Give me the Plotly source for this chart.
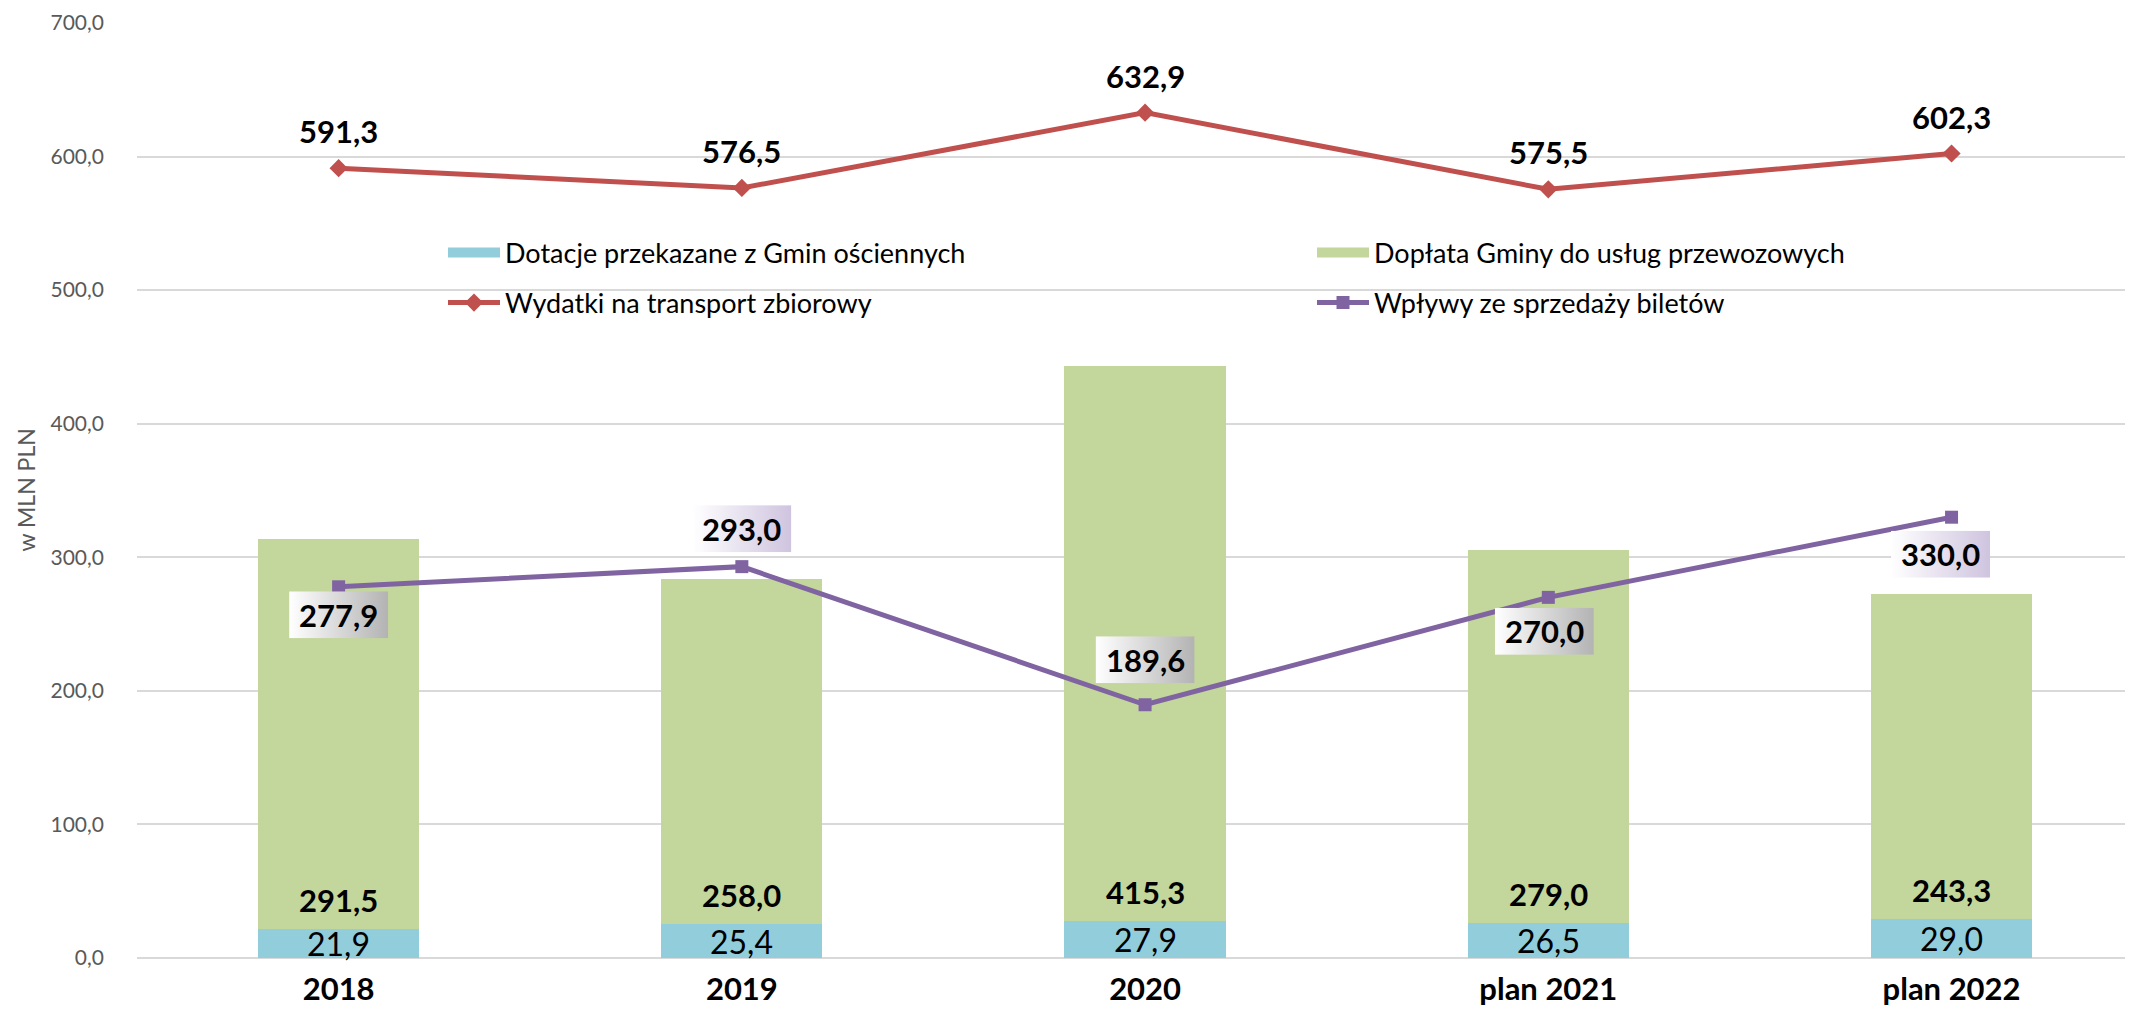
import base64
import plotly.graph_objects as go

# ---------------- data ----------------
categories = ["2018", "2019", "2020", "plan 2021", "plan 2022"]
dotacje = [21.9, 25.4, 27.9, 26.5, 29.0]          # Dotacje przekazane z Gmin ościennych
doplata = [291.5, 258.0, 415.3, 279.0, 243.3]     # Dopłata Gminy do usług przewozowych
wydatki = [591.3, 576.5, 632.9, 575.5, 602.3]     # Wydatki na transport zbiorowy
wplywy = [277.9, 293.0, 189.6, 270.0, 330.0]      # Wpływy ze sprzedaży biletów
y_ticks = [0, 100, 200, 300, 400, 500, 600, 700]

# ---------------- style / layout constants ----------------
PAGE_OFF = 8                      # default body margin of the html page
W, H = 2133 - PAGE_OFF, 1015 - PAGE_OFF
M_L, M_R, M_T = 137 - PAGE_OFF, 0, 23 - PAGE_OFF
M_B = H - (958 - PAGE_OFF)
Y_MAX = 700
X_RANGE = [-0.5, 4.45]
plot_w = W - M_L - M_R
plot_h = H - M_T - M_B
px_per_y = plot_h / Y_MAX
px_per_x = plot_w / (X_RANGE[1] - X_RANGE[0])

FONT = "Lato"
C_BLUE = "#92cddc"
C_GREEN = "#c3d69b"
C_RED = "#c0504d"
C_PURPLE = "#8064a2"
C_GRID = "#d9d9d9"
C_TICK = "#595959"

# label box offsets for the "Wpływy" labels (px, relative to marker)
wplywy_dy = [-28, 38, 45, -34, -37]
wplywy_dx = [0, 0, 0, -4, -11]
wplywy_box = ["gray", "purple", "gray", "gray", "purple"]
BOX_W, BOX_H = 99, 47
LBL = 31
LEG_ITEM_W = 52

x_idx = list(range(len(categories)))

names = ["Dotacje przekazane z Gmin ościennych", "Dopłata Gminy do usług przewozowych",
         "Wydatki na transport zbiorowy", "Wpływy ze sprzedaży biletów"]

fig = go.Figure()
fig.add_trace(go.Bar(x=x_idx, y=dotacje, name=names[0], showlegend=False,
                     marker=dict(color=C_BLUE, line=dict(width=0)), width=0.4))
fig.add_trace(go.Bar(x=x_idx, y=doplata, name=names[1], showlegend=False,
                     marker=dict(color=C_GREEN, line=dict(width=0)), width=0.4))
fig.add_trace(go.Scatter(x=x_idx, y=wydatki, name=names[2],
                         mode="lines+markers",
                         line=dict(color=C_RED, width=5),
                         marker=dict(symbol="diamond", size=14, color=C_RED),
                         legend="legend3"))
fig.add_trace(go.Scatter(x=x_idx, y=wplywy, name=names[3],
                         mode="lines+markers",
                         line=dict(color=C_PURPLE, width=5),
                         marker=dict(symbol="square", size=13, color=C_PURPLE),
                         legend="legend4"))
# legend-only entries for the bar series (wide rectangle swatches)
fig.add_trace(go.Scatter(x=[None], y=[None], name=names[0], mode="lines",
                         line=dict(color=C_BLUE, width=15), legend="legend", hoverinfo="skip"))
fig.add_trace(go.Scatter(x=[None], y=[None], name=names[1], mode="lines",
                         line=dict(color=C_GREEN, width=15), legend="legend2", hoverinfo="skip"))


def fmt(v):
    return f"{v:.1f}".replace(".", ",")


def grad_svg(right_color):
    svg = (
        "<svg xmlns='http://www.w3.org/2000/svg' width='100' height='47' "
        "viewBox='0 0 100 47' preserveAspectRatio='none'>"
        "<defs><linearGradient id='g' x1='0' y1='0' x2='1' y2='0'>"
        "<stop offset='0' stop-color='#ffffff'/>"
        f"<stop offset='1' stop-color='{right_color}'/>"
        "</linearGradient></defs>"
        "<rect width='100' height='47' fill='url(#g)'/></svg>"
    )
    return "data:image/svg+xml;base64," + base64.b64encode(svg.encode()).decode()


GRAD = {"gray": grad_svg("#b3b3b3"), "purple": grad_svg("#cfc4df")}

annotations = []
images = []

for i in x_idx:
    annotations.append(dict(x=i, y=wydatki[i], xref="x", yref="y", text=f"<b>{fmt(wydatki[i])}</b>",
                            showarrow=False, yshift=37, font=dict(family=FONT, size=LBL, color="#000")))
    annotations.append(dict(x=i, y=dotacje[i], xref="x", yref="y", text=f"<b>{fmt(doplata[i])}</b>",
                            showarrow=False, yshift=29, font=dict(family=FONT, size=LBL, color="#000")))
    annotations.append(dict(x=i, y=dotacje[i] / 2, xref="x", yref="y", text=fmt(dotacje[i]),
                            showarrow=False, yshift=0, font=dict(family=FONT, size=32, color="#000")))
    cx = i + wplywy_dx[i] / px_per_x
    cy = wplywy[i] + wplywy_dy[i] / px_per_y
    images.append(dict(source=GRAD[wplywy_box[i]], xref="x", yref="y", x=cx, y=cy,
                       sizex=BOX_W / px_per_x, sizey=BOX_H / px_per_y,
                       xanchor="center", yanchor="middle", sizing="stretch", layer="above"))
    annotations.append(dict(x=cx, y=cy, xref="x", yref="y", text=f"<b>{fmt(wplywy[i])}</b>",
                            showarrow=False, font=dict(family=FONT, size=LBL, color="#000")))

annotations.append(dict(x=(25 - 137) / plot_w, y=0.5, xref="paper", yref="paper",
                        xanchor="center", yanchor="middle",
                        text="w MLN PLN", textangle=-90, showarrow=False,
                        font=dict(family=FONT, size=23, color=C_TICK)))


def legend_at(text_x, text_y):
    # text_x/text_y: page position where legend text starts / is centered
    return dict(orientation="v", x=(text_x - 137 - (LEG_ITEM_W + 13)) / plot_w, y=(958 - text_y) / plot_h,
                xanchor="left", yanchor="middle",
                font=dict(family=FONT, size=27, color="#000"), itemwidth=LEG_ITEM_W,
                bgcolor="rgba(0,0,0,0)", borderwidth=0)


fig.update_layout(
    width=W, height=H,
    margin=dict(l=M_L, r=M_R, t=M_T, b=M_B, pad=0),
    paper_bgcolor="white", plot_bgcolor="white",
    barmode="stack",
    separators=", ",
    font=dict(family=FONT, color="#000"),
    annotations=annotations,
    images=images,
    legend=legend_at(508, 253),
    legend2=legend_at(1377, 253),
    legend3=legend_at(508, 303),
    legend4=legend_at(1377, 303),
    xaxis=dict(range=X_RANGE, tickmode="array", tickvals=x_idx,
               ticktext=[f"<b>{c}</b>" for c in categories],
               tickfont=dict(family=FONT, size=31, color="#000"),
               showgrid=False, zeroline=False, showline=False, ticks="",
               ticklabelstandoff=10),
    yaxis=dict(range=[0, Y_MAX], tickmode="array", tickvals=y_ticks, tickformat=".1f",
               tickfont=dict(family=FONT, size=21, color=C_TICK),
               showgrid=True, gridcolor=C_GRID, gridwidth=2,
               zeroline=True, zerolinecolor=C_GRID, zerolinewidth=2,
               showline=False, ticks="", ticklabelstandoff=32),
)

fig.write_html("out.html")
